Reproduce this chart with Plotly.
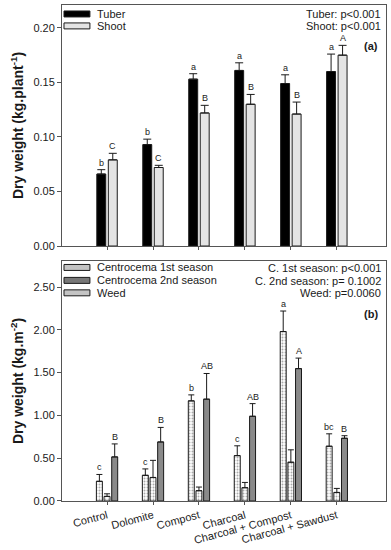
import plotly.graph_objects as go

# ---------------- data ----------------
categories = ["Control", "Dolomite", "Compost", "Charcoal",
              "Charcoal + Compost", "Charcoal + Sawdust"]

tuber = [0.066, 0.093, 0.153, 0.161, 0.149, 0.160]
tuber_se = [0.004, 0.005, 0.005, 0.007, 0.008, 0.016]
tuber_letters = ["b", "b", "a", "a", "a", "a"]

shoot = [0.079, 0.072, 0.122, 0.130, 0.121, 0.175]
shoot_se = [0.006, 0.002, 0.007, 0.009, 0.011, 0.009]
shoot_letters = ["C", "C", "B", "B", "B", "A"]

c1 = [0.23, 0.30, 1.17, 0.53, 1.98, 0.64]
c1_se = [0.08, 0.075, 0.07, 0.115, 0.24, 0.145]
c1_letters = ["c", "c", "b", "c", "a", "bc"]

weed = [0.054, 0.275, 0.12, 0.155, 0.453, 0.10]
weed_se = [0.03, 0.20, 0.043, 0.062, 0.145, 0.047]

c2 = [0.515, 0.69, 1.19, 0.99, 1.547, 0.733]
c2_se = [0.152, 0.17, 0.30, 0.148, 0.123, 0.03]
c2_letters = ["B", "B", "AB", "AB", "A", "B"]

top_stats = ["Tuber: p<0.001", "Shoot: p<0.001"]
bot_stats = ["C. 1st season: p<0.001", "C. 2nd season: p= 0.1002", "Weed: p=0.0060"]

# ---------------- style ----------------
FONT = "Arial, Liberation Sans, sans-serif"
INK = "#1a1a1a"
FRAME = "#555555"
W, H = 391, 550
ML, MR, MT, MB = 62, 4, 5, 47
x = list(range(len(categories)))

def px(xp):
    return (xp - ML) / (W - ML - MR)

def py(yp):
    return (H - MB - yp) / (H - MT - MB)

BARGAP = 0.5

def offsets(n):
    slot = (1 - BARGAP) / n
    return [-(1 - BARGAP) / 2 + slot * (k + 0.5) for k in range(n)]

def err(se, w):
    return dict(type="data", symmetric=False, array=se, arrayminus=[0] * len(se),
                color=INK, thickness=1, width=w)

fig = go.Figure()
fig.add_bar(x=x, y=tuber, error_y=err(tuber_se, 4), xaxis="x", yaxis="y",
            marker=dict(color="black", line=dict(color=INK, width=1)), showlegend=False)
fig.add_bar(x=x, y=shoot, error_y=err(shoot_se, 4), xaxis="x", yaxis="y",
            marker=dict(color="#e4e4e4", line=dict(color=INK, width=1)), showlegend=False)

dots = dict(shape=".", fgcolor="#555555", bgcolor="white", size=3, solidity=0.35)
fig.add_bar(x=x, y=c1, error_y=err(c1_se, 3), xaxis="x2", yaxis="y2",
            marker=dict(color="white", pattern=dots, line=dict(color=INK, width=1)),
            showlegend=False)
fig.add_bar(x=x, y=weed, error_y=err(weed_se, 3), xaxis="x2", yaxis="y2",
            marker=dict(color="white", pattern=dots, line=dict(color=INK, width=1)),
            showlegend=False)
fig.add_bar(x=x, y=c2, error_y=err(c2_se, 3), xaxis="x2", yaxis="y2",
            marker=dict(color="#8a8a8a", line=dict(color=INK, width=1)), showlegend=False)

ann = []
o2 = offsets(2)
for vals, se, letters, k in [(tuber, tuber_se, tuber_letters, 0),
                             (shoot, shoot_se, shoot_letters, 1)]:
    for i, (v, s, t) in enumerate(zip(vals, se, letters)):
        ann.append(dict(x=i + o2[k], y=v + s, xref="x", yref="y", text=t,
                        showarrow=False, yanchor="bottom", yshift=0,
                        font=dict(family=FONT, size=9, color=INK)))
o3 = offsets(3)
for vals, se, letters, k in [(c1, c1_se, c1_letters, 0), (c2, c2_se, c2_letters, 2)]:
    for i, (v, s, t) in enumerate(zip(vals, se, letters)):
        ann.append(dict(x=i + o3[k], y=v + s, xref="x2", yref="y2", text=t,
                        showarrow=False, yanchor="bottom", yshift=0,
                        font=dict(family=FONT, size=9, color=INK)))

# stats texts
for t, yp in zip(top_stats, [14, 26.5]):
    ann.append(dict(x=px(384), y=py(yp), xref="paper", yref="paper", text=t,
                    xanchor="right", yanchor="middle", showarrow=False,
                    font=dict(family=FONT, size=11, color=INK)))
ann.append(dict(x=px(381), y=py(46.5), xref="paper", yref="paper", text="<b>(a)</b>",
                xanchor="right", yanchor="middle", showarrow=False,
                font=dict(family=FONT, size=11, color=INK)))
for t, yp in zip(bot_stats, [269, 282, 294.5]):
    ann.append(dict(x=px(384), y=py(yp), xref="paper", yref="paper", text=t,
                    xanchor="right", yanchor="middle", showarrow=False,
                    font=dict(family=FONT, size=11, color=INK)))
ann.append(dict(x=px(381), y=py(315), xref="paper", yref="paper", text="<b>(b)</b>",
                xanchor="right", yanchor="middle", showarrow=False,
                font=dict(family=FONT, size=11, color=INK)))

# manual legends
shapes = []
legend_items = [("Tuber", "black", 14), ("Shoot", "#e4e4e4", 26),
                ("Centrocema 1st season", "#c4c4c4", 268.5),
                ("Centrocema 2nd season", "#777777", 281.5),
                ("Weed", "#c4c4c4", 294)]
for name, col, yp in legend_items:
    shapes.append(dict(type="rect", xref="paper", yref="paper",
                       x0=px(64), x1=px(90), y0=py(yp + 3), y1=py(yp - 3),
                       fillcolor=col, line=dict(color=INK, width=1)))
    ann.append(dict(x=px(95), y=py(yp), xref="paper", yref="paper", text=name,
                    xanchor="left", yanchor="middle", showarrow=False,
                    font=dict(family=FONT, size=11, color=INK)))

axis_common = dict(showline=True, mirror=True, linecolor=FRAME, linewidth=1,
                   showgrid=False, zeroline=False, ticks="outside",
                   tickcolor=FRAME, tickfont=dict(family=FONT, size=11, color=INK))

fig.update_layout(
    width=W, height=H, margin=dict(l=ML, r=MR, t=MT, b=MB),
    paper_bgcolor="white", plot_bgcolor="white",
    barmode="group", bargap=BARGAP, bargroupgap=0.22,
    showlegend=False,
    xaxis=dict(axis_common, domain=[0, 1], anchor="y", range=[-0.98, 6.07],
               tickvals=x, showticklabels=False, ticklen=3),
    yaxis=dict(axis_common, domain=[py(247), 1], anchor="x", range=[0, 0.221],
               tickvals=[0, 0.05, 0.10, 0.15, 0.20], tickformat=".2f", ticklen=4,
               title=dict(text="<b>Dry weight (kg.plant<sup>-1</sup>)</b>",
                          font=dict(family=FONT, size=14, color=INK), standoff=6)),
    xaxis2=dict(axis_common, domain=[0, 1], anchor="y2", range=[-0.98, 6.07],
                tickvals=x, ticktext=categories, tickangle=-15, ticklen=3),
    yaxis2=dict(axis_common, domain=[0, py(262)], anchor="x2", range=[0, 2.805],
                tickvals=[0, 0.5, 1.0, 1.5, 2.0, 2.5], tickformat=".2f", ticklen=4,
                title=dict(text="<b>Dry weight (kg.m<sup>-2</sup>)</b>",
                           font=dict(family=FONT, size=14, color=INK), standoff=6)),
    annotations=ann, shapes=shapes,
)

fig.write_html("out.html",
               config={"displayModeBar": False},
               post_script="document.body.style.margin='0';"
                           "document.body.style.overflow='hidden';")
